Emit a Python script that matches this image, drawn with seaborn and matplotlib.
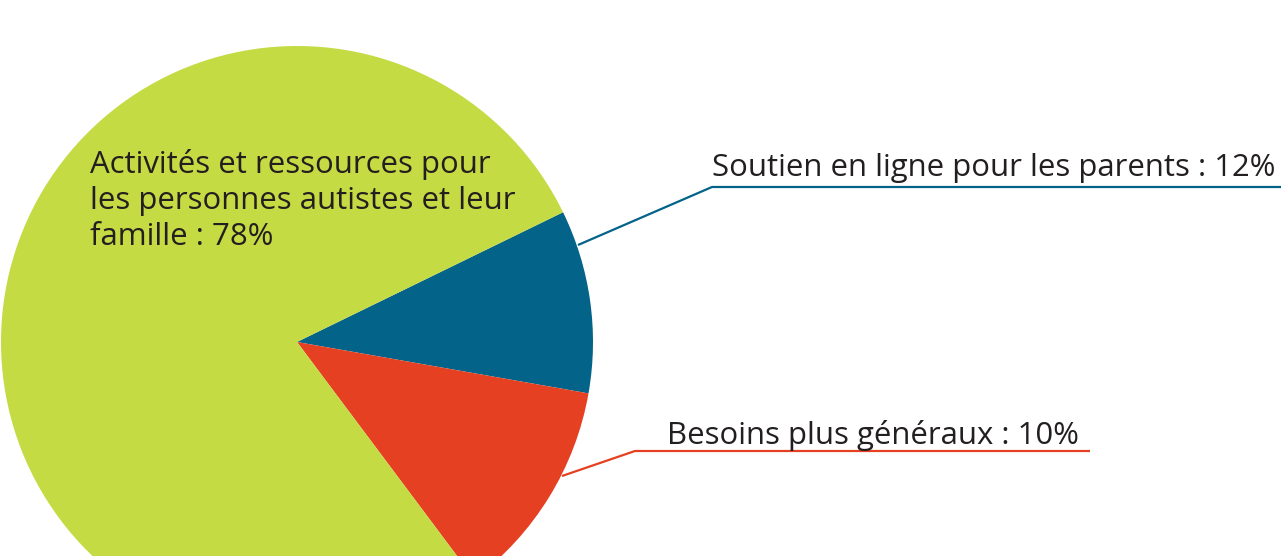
import matplotlib
matplotlib.use("Agg")
import matplotlib.pyplot as plt
import seaborn as sns

# --- données ---
categories = ["Soutien en ligne pour les parents",
              "Besoins plus généraux",
              "Activités et ressources pour les personnes autistes et leur famille"]
shares = [10, 12, 78]          # parts telles que dessinées dans le camembert
label_texts = ["Soutien en ligne pour les parents : 12%",
               "Besoins plus généraux : 10%",
               "Activités et ressources pour\nles personnes autistes et leur\nfamille : 78%"]
colors = ["#036388", "#E54021", "#C4DB43"]

sns.set_theme(style="white")
plt.rcParams["font.family"] = ["Open Sans", "DejaVu Sans"]

W, H = 1281, 556
fig = plt.figure(figsize=(W / 100, H / 100), dpi=100)
ax = fig.add_axes([0, 0, 1, 1])

# --- camembert (coordonnées en pixels, y vers le haut) ---
cx, cy, r = 297, H - 342, 296
ax.pie(shares, colors=colors, startangle=26, counterclock=False,
       center=(cx, cy), radius=r, wedgeprops=dict(linewidth=0))

ax.set_xlim(0, W)
ax.set_ylim(0, H)
ax.set_aspect("auto")
ax.axis("off")

txt = "#231F20"
fs = 22.4

# étiquette verte dans la part (baseline = dernière ligne)
ax.text(90, H - 245, label_texts[2], fontsize=fs, color=txt,
        ha="left", va="baseline", linespacing=1.25)

# traits de rappel + étiquettes
ax.plot([578, 712, W], [H - 245, H - 187, H - 187], color=colors[0], lw=1.6,
        solid_capstyle="butt")
ax.text(712, H - 176, label_texts[0], fontsize=fs, color=txt, ha="left", va="baseline")

ax.plot([562, 635, 1090], [H - 476, H - 451, H - 451], color=colors[1], lw=1.6,
        solid_capstyle="butt")
ax.text(667, H - 444, label_texts[1], fontsize=fs, color=txt, ha="left", va="baseline")

fig.savefig("out.png", dpi=100)
